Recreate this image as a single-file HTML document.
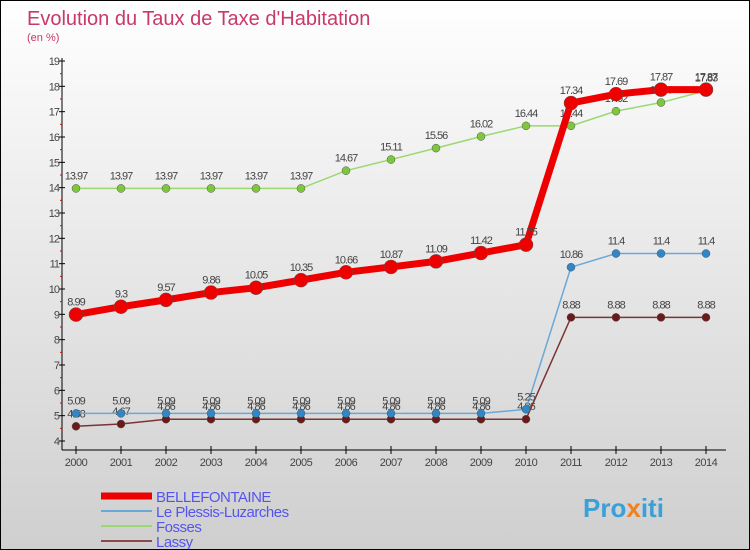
<!DOCTYPE html>
<html><head><meta charset="utf-8"><style>
body{margin:0}
#c{width:750px;height:550px;position:relative;box-sizing:border-box;border:1px solid #000;background:linear-gradient(#fff,#f0f0f0 30%,#cfcfcf);font-family:"Liberation Sans",sans-serif;overflow:hidden}
</style></head><body>
<div id="c">
<svg id="s" width="750" height="550" style="position:absolute;left:0;top:0">
<text x="26" y="24" font-size="20" fill="#c8386a">Evolution du Taux de Taxe d'Habitation</text>
<text x="26" y="40" font-size="11" fill="#c8386a">(en %)</text>
<g id="g"></g>
<text x="582" y="516" font-size="26" font-weight="bold" fill="#3aa0d8">Pro<tspan fill="#f08020">x</tspan>iti</text>
</svg>
</div>
<script>
const years=[2000,2001,2002,2003,2004,2005,2006,2007,2008,2009,2010,2011,2012,2013,2014];
const yTicks=[4,5,6,7,8,9,10,11,12,13,14,15,16,17,18,19];
const seriesNames=["BELLEFONTAINE","Le Plessis-Luzarches","Fosses","Lassy"];
const bellefontaine=[8.99,9.3,9.57,9.86,10.05,10.35,10.66,10.87,11.09,11.42,11.75,17.34,17.69,17.87,17.87];
const plessis=[5.09,5.09,5.09,5.09,5.09,5.09,5.09,5.09,5.09,5.09,5.25,10.86,11.4,11.4,11.4];
const fosses=[13.97,13.97,13.97,13.97,13.97,13.97,14.67,15.11,15.56,16.02,16.44,16.44,17.02,17.36,17.83];
const lassy=[4.58,4.67,4.86,4.86,4.86,4.86,4.86,4.86,4.86,4.86,4.86,8.88,8.88,8.88,8.88];
const NS="http://www.w3.org/2000/svg",g=document.getElementById('g');
const X=i=>75+i*45, Y=v=>440-(v-4)*(380/15);
function mk(t,a,txt){const e=document.createElementNS(NS,t);for(const k in a)e.setAttribute(k,a[k]);if(txt!==undefined)e.textContent=txt;g.appendChild(e);return e;}
let e=mk('line',{x1:61,y1:57,x2:61,y2:449,stroke:'#000'});

e=mk('line',{x1:61,y1:449,x2:725,y2:449,stroke:'#000'});

yTicks.forEach(v=>{const y=Y(v);
 mk('line',{x1:58,y1:y,x2:64,y2:y,stroke:'#000'});
 if(v<19)mk('line',{x1:59,y1:Y(v+0.5),x2:61,y2:Y(v+0.5),stroke:'#e00'});
 const t=mk('text',{x:58,y:y+4,'font-size':11,fill:'#444','text-anchor':'end','letter-spacing':'-1'},v);
 });
years.forEach((yr,i)=>{mk('line',{x1:X(i),y1:445,x2:X(i),y2:453,stroke:'#000'});
 const t=mk('text',{x:X(i),y:465,'font-size':11,fill:'#444','text-anchor':'middle','letter-spacing':'-0.5'},yr);
 });
function draw(arr,color,w,r,dot,name){
 const p=mk('polyline',{points:arr.map((v,i)=>X(i)+','+Y(v)).join(' '),fill:'none',stroke:color,'stroke-width':w});
 
 arr.forEach((v,i)=>{const c=mk('circle',{cx:X(i),cy:Y(v),r:r,fill:dot,stroke:'#555','stroke-width':0.5});
  
  const t=mk('text',{x:X(i),y:Y(v)-9,'font-size':11,fill:'#444','text-anchor':'middle','letter-spacing':'-1'},v);
  });
}
draw(lassy,'#7a3434',1.5,4,'#6a1a1a','lassy');
draw(plessis,'#6aa8d8',1.5,4,'#2f86c8','plessis');
draw(fosses,'#9ad870',1.5,4,'#7cc83a','fosses');
draw(bellefontaine,'#ee0000',7,7,'#ee0000','bellefontaine');
const lc=['#ee0000','#6aa8d8','#9ad870','#8a4a4a'],lw=[7,2,2,2];
seriesNames.forEach((n,i)=>{const y=495+i*15;
 const l=mk('line',{x1:100,y1:y,x2:151,y2:y,stroke:lc[i],'stroke-width':lw[i]});
 
 const t=mk('text',{x:155,y:y+6,'font-size':15,fill:'#5555ee','letter-spacing':'-0.5'},n);
 });
</script>
</body></html>
